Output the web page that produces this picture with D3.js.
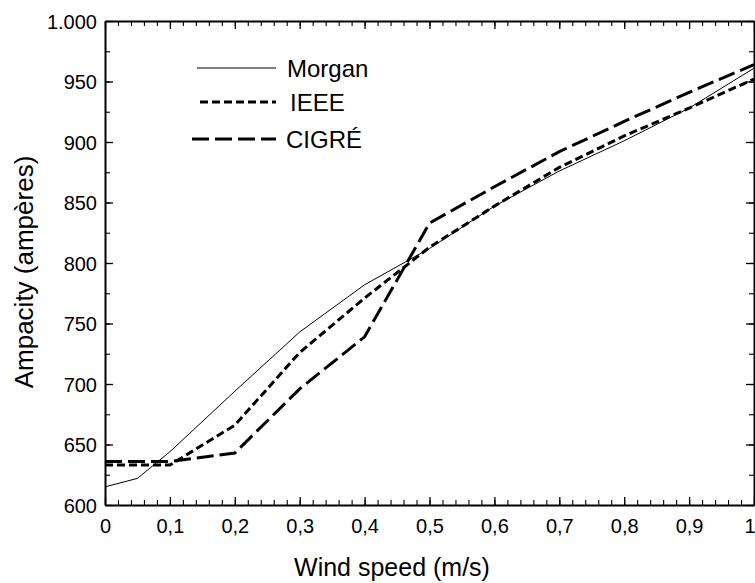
<!DOCTYPE html>
<html>
<head>
<meta charset="utf-8">
<script src="https://cdn.jsdelivr.net/npm/d3@7"></script>
<style>
  body { margin: 0; background: #fff; }
  svg { display: block; }
  text { font-family: Arial, "Liberation Sans", sans-serif; fill: #000; }
</style>
</head>
<body>
<div id="chart"></div>
<script>
// wind speed (m/s) and ampacity (A)
var windMorgan = [0, 0.05, 0.1, 0.2, 0.3, 0.4, 0.5, 0.6, 0.7, 0.8, 0.9, 1];
var morgan = [615, 622, 644, 694, 743, 782, 812, 847, 876, 901, 928, 961];

var wind = [0, 0.1, 0.2, 0.3, 0.4, 0.5, 0.6, 0.7, 0.8, 0.9, 1];
var ieee = [633, 633, 666, 726, 771, 813, 847, 879, 905, 928, 952];
var cigre = [636, 636, 643, 696, 739, 833, 863, 892, 917, 941, 964];

var xTicks = [0, 0.1, 0.2, 0.3, 0.4, 0.5, 0.6, 0.7, 0.8, 0.9, 1];
var xMinor = d3.range(0, 51).map(function(i) { return i / 50; });
var yTicks = [600, 650, 700, 750, 800, 850, 900, 950, 1000];
var yMinor = d3.range(600, 1001, 25);

var seriesNames = ["Morgan", "IEEE", "CIGRÉ"];

var width = 755,
    height = 583,
    plotLeft = 105,
    plotRight = 754,
    plotTop = 21,
    plotBottom = 505;

var loc = d3.formatLocale({ decimal: ",", thousands: ".", grouping: [3], currency: ["", ""] });
var fx = loc.format("~g"),
    fy = loc.format(",");

var x = d3.scaleLinear().domain([0, 1]).range([plotLeft, plotRight]);
var y = d3.scaleLinear().domain([600, 1000]).range([plotBottom, plotTop]);

var svg = d3.select("#chart").append("svg")
    .attr("width", width)
    .attr("height", height);

// frame: minor ticks first, then major ticks with labels
function frame(axisFn, pos, minor, major, fmt, labels) {
    var gMin = svg.append("g").attr("transform", pos)
        .call(axisFn(minor).tickSize(-5).tickSizeOuter(0).tickFormat(""));
    gMin.select(".domain").remove();
    var g = svg.append("g").attr("transform", pos)
        .call(axisFn(major).tickSize(-8).tickSizeOuter(0).tickFormat(labels ? fmt : ""));
    g.selectAll(".tick line").attr("stroke-width", 1.3);
    gMin.selectAll(".tick line").attr("stroke-width", 1.1);
    g.select(".domain").attr("stroke-width", 2);
    return g;
}

function bottomAxis(v) { return d3.axisBottom(x).tickValues(v); }
function topAxis(v) { return d3.axisTop(x).tickValues(v); }
function leftAxis(v) { return d3.axisLeft(y).tickValues(v); }
function rightAxis(v) { return d3.axisRight(y).tickValues(v); }

var gx = frame(bottomAxis, "translate(0," + plotBottom + ")", xMinor, xTicks, fx, true);
frame(topAxis, "translate(0," + plotTop + ")", xMinor, xTicks, fx, false);
var gy = frame(leftAxis, "translate(" + plotLeft + ",0)", yMinor, yTicks, fy, true);
frame(rightAxis, "translate(" + plotRight + ",0)", yMinor, yTicks, fy, false);

gx.selectAll(".tick text")
    .attr("y", 28)
    .attr("dy", 0)
    .style("font-size", "20px")
    .style("font-family", "Arial, 'Liberation Sans', sans-serif");

// the last label sits on the window edge, keep it inside
gx.selectAll(".tick text")
    .filter(function(d) { return d === 1; })
    .attr("text-anchor", "end")
    .attr("x", 1);

gy.selectAll(".tick text")
    .attr("x", -8)
    .attr("dy", "0.35em")
    .style("font-size", "20px")
    .style("font-family", "Arial, 'Liberation Sans', sans-serif");

// lines
var line = d3.line()
    .x(function(d) { return x(d[0]); })
    .y(function(d) { return y(d[1]); });

var styles = [
    { w: 1, dash: null },
    { w: 3, dash: "8,4" },
    { w: 3, dash: "17,6" }
];

var sets = [
    d3.zip(windMorgan, morgan),
    d3.zip(wind, ieee),
    d3.zip(wind, cigre)
];

sets.forEach(function(pts, i) {
    svg.append("path")
        .datum(pts)
        .attr("d", line)
        .attr("fill", "none")
        .attr("stroke", "#000")
        .attr("stroke-width", styles[i].w)
        .attr("stroke-dasharray", styles[i].dash);
});

// legend
var legY = [68, 102, 139],
    legX1 = [197, 200, 192],
    legTx = [287, 290, 286];

seriesNames.forEach(function(name, i) {
    svg.append("line")
        .attr("x1", legX1[i]).attr("x2", 276)
        .attr("y1", legY[i]).attr("y2", legY[i])
        .attr("stroke", "#000")
        .attr("stroke-width", styles[i].w)
        .attr("stroke-dasharray", styles[i].dash);
    svg.append("text")
        .attr("x", legTx[i])
        .attr("y", legY[i] + 9)
        .style("font-size", "24px")
        .text(name);
});

// axis titles
svg.append("text")
    .attr("x", 392)
    .attr("y", 576)
    .attr("text-anchor", "middle")
    .style("font-size", "25px")
    .text("Wind speed (m/s)");

svg.append("text")
    .attr("transform", "translate(33,272) rotate(-90)")
    .attr("text-anchor", "middle")
    .style("font-size", "26px")
    .text("Ampacity (ampères)");
</script>
</body>
</html>
